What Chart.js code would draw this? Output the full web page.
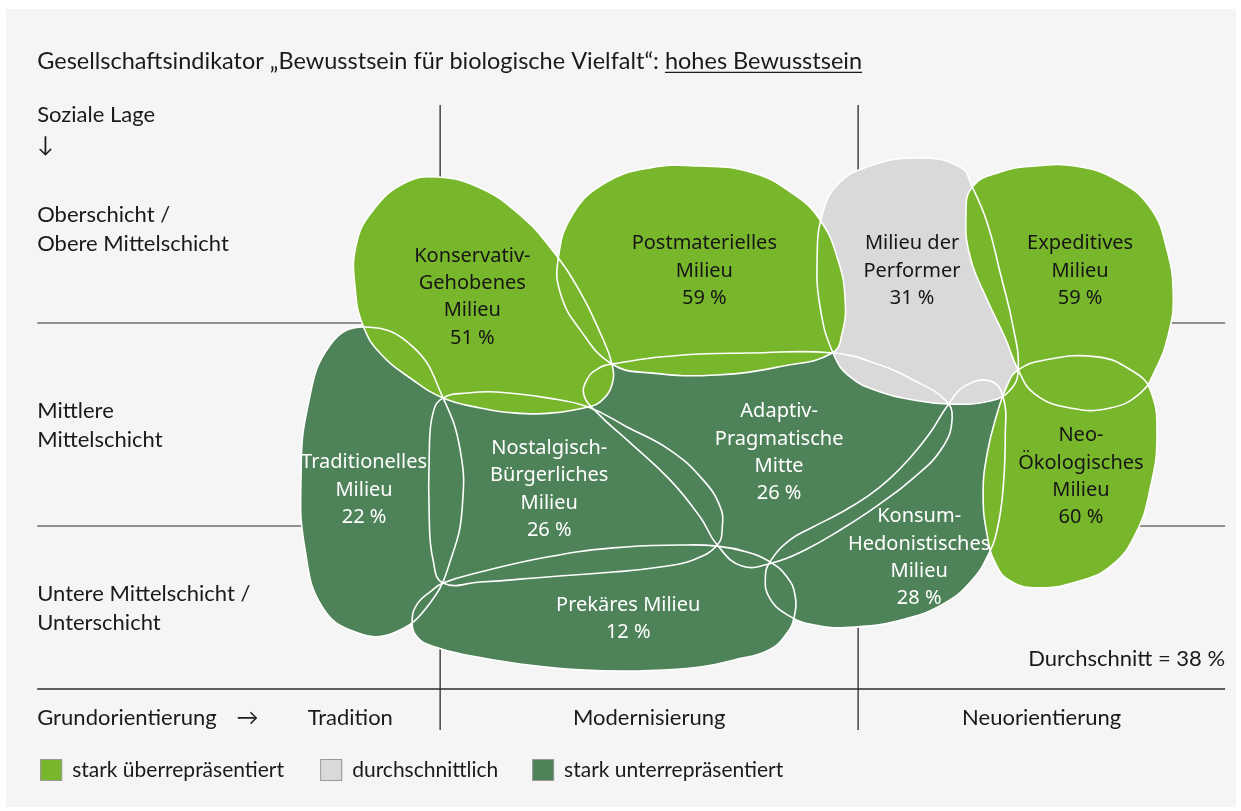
<!DOCTYPE html>
<html lang="de">
<head>
<meta charset="utf-8">
<title>Bewusstsein für biologische Vielfalt – Sinus-Milieus</title>
<script src="https://cdn.jsdelivr.net/npm/chart.js@4.4.1/dist/chart.umd.min.js"></script>
<style>
  html, body { margin: 0; padding: 0; background: #fff; }
  #wrap { position: relative; width: 1241px; height: 811px; }
</style>
</head>
<body>
<div id="wrap"><canvas id="milieuChart"></canvas></div>
<script>
// --- Daten ---------------------------------------------------------------
// Milieus (Zeilenumbrüche wie in der Vorlage)
const milieuNames = [
  ['Konservativ-', 'Gehobenes', 'Milieu'],
  ['Postmaterielles', 'Milieu'],
  ['Milieu der', 'Performer'],
  ['Expeditives', 'Milieu'],
  ['Neo-', 'Ökologisches', 'Milieu'],
  ['Adaptiv-', 'Pragmatische', 'Mitte'],
  ['Nostalgisch-', 'Bürgerliches', 'Milieu'],
  ['Traditionelles', 'Milieu'],
  ['Prekäres Milieu'],
  ['Konsum-', 'Hedonistisches', 'Milieu']
];
// Anteil "hohes Bewusstsein" in %
const milieuShares = [51, 59, 31, 59, 60, 26, 26, 22, 12, 28];
// ueber = stark überrepräsentiert, mittel = durchschnittlich, unter = stark unterrepräsentiert
const milieuGroups = ['ueber', 'ueber', 'mittel', 'ueber', 'ueber', 'unter', 'unter', 'unter', 'unter', 'unter'];
const averageShare = 38;

const rowLabels = [['Oberschicht /', 'Obere Mittelschicht'], ['Mittlere', 'Mittelschicht'], ['Untere Mittelschicht /', 'Unterschicht']];
const columnLabels = ['Tradition', 'Modernisierung', 'Neuorientierung'];
const legendLabels = { ueber: 'stark überrepräsentiert', mittel: 'durchschnittlich', unter: 'stark unterrepräsentiert' };

// --- Lage im Raster ------------------------------------------------------
// Achseneinheiten: Spaltengrenzen bei x = 10 / 20, Zeilengrenzen bei y = 10 / 20
const milieuOutlines = [
  [[9.93,2.81],[10.96,3.35],[11.91,4.68],[12.68,6.40],[13.35,8.47],[13.83,10.49],[14.11,12.02],[14.11,13.05],[13.83,13.89],[13.54,14.14],[12.70,14.43],[11.75,14.43],[10.96,14.19],[10.07,13.69],[9.35,12.81],[8.56,11.48],[8.16,10.15],[7.97,8.37],[7.99,6.16],[8.40,4.43],[9.16,3.10]],
  [[12.82,6.90],[13.16,4.68],[13.95,3.10],[15.02,2.36],[16.22,2.27],[17.42,2.56],[18.42,3.60],[19.09,4.93],[19.52,6.90],[19.69,8.87],[19.62,10.49],[19.38,11.48],[18.21,12.12],[16.63,12.56],[15.02,12.46],[14.11,12.02],[13.35,10.34],[12.89,8.62]],
  [[20.21,2.32],[21.41,1.87],[22.44,2.32],[22.73,3.30],[23.09,5.07],[23.40,7.54],[23.71,10.20],[23.83,12.32],[23.64,13.30],[23.16,13.84],[22.15,13.99],[21.32,13.79],[20.53,13.40],[19.81,12.66],[19.40,11.48],[19.09,9.21],[19.02,6.75],[19.14,4.68],[19.50,3.20]],
  [[22.73,3.30],[23.40,2.56],[24.23,2.27],[25.19,2.27],[26.20,2.96],[26.99,4.33],[27.39,6.40],[27.54,8.72],[27.42,10.59],[27.11,12.32],[26.75,13.45],[26.03,14.19],[25.07,14.19],[24.23,13.50],[23.83,12.32],[23.52,10.74],[23.09,8.87],[22.68,6.75],[22.58,4.68]],
  [[23.80,12.36],[24.47,11.82],[25.72,11.67],[26.53,12.32],[26.99,13.30],[27.15,15.57],[26.99,18.13],[26.65,20.34],[26.08,21.92],[25.29,22.71],[24.31,23.05],[23.64,22.71],[23.28,21.82],[23.09,20.49],[22.99,18.47],[23.09,16.40],[23.35,14.29],[23.54,13.20]],
  [[14.11,12.02],[15.81,11.58],[17.42,11.48],[19.40,11.48],[20.53,12.07],[21.32,12.81],[22.08,13.79],[22.25,14.68],[22.01,16.16],[21.32,17.64],[20.48,18.97],[19.57,20.20],[18.73,21.18],[17.94,21.82],[17.22,21.97],[16.63,20.94],[16.22,19.56],[15.50,17.73],[14.47,15.76],[13.76,14.43],[13.44,13.55],[13.52,12.76],[13.76,12.27]],
  [[10.07,13.69],[10.65,13.45],[11.36,13.40],[12.56,13.69],[13.54,14.14],[14.47,15.12],[15.50,16.26],[16.29,17.73],[16.70,19.06],[16.75,20.05],[16.63,20.94],[16.05,21.67],[15.26,22.02],[14.14,22.27],[12.56,22.51],[10.96,22.76],[10.07,22.81],[9.83,21.67],[9.74,19.70],[9.74,16.40],[9.83,14.43]],
  [[8.21,10.20],[9.35,11.18],[10.07,13.69],[10.48,16.26],[10.53,19.06],[10.29,21.43],[9.76,23.79],[8.88,25.27],[7.97,25.22],[7.18,23.99],[6.77,21.18],[6.67,17.73],[6.84,14.04],[7.37,11.08]],
  [[10.07,22.81],[10.96,22.27],[12.56,21.53],[14.14,21.08],[15.74,20.94],[16.63,20.99],[17.34,21.28],[17.89,21.77],[18.30,22.51],[18.49,23.40],[18.47,24.48],[18.30,25.27],[17.87,26.11],[17.03,26.60],[16.22,26.95],[14.78,27.14],[13.35,27.09],[11.91,26.80],[10.72,26.40],[9.88,25.96],[9.45,25.47],[9.33,24.63],[9.47,23.79],[9.76,23.25]],
  [[17.89,21.77],[18.37,20.69],[18.92,20.05],[19.57,19.36],[20.24,18.52],[20.77,17.64],[21.24,16.65],[21.72,15.42],[22.15,14.04],[22.56,13.10],[23.16,12.86],[23.47,13.65],[23.52,15.57],[23.47,18.13],[23.33,20.15],[23.11,21.43],[22.73,22.66],[22.08,23.79],[21.12,24.58],[19.93,24.98],[18.95,24.88],[18.28,24.34],[17.87,23.50],[17.78,22.56]]
];
// Mittelpunkt der Beschriftung je Milieu
const milieuLabelPos = [
  [10.77, 8.72], [16.32, 7.44], [21.29, 7.44], [25.31, 7.44], [25.33, 17.56],
  [18.11, 16.38], [12.61, 18.20], [8.18, 18.23], [14.50, 24.56], [21.46, 21.55]
];

const GREEN = '#78b72b';
const GREY = '#d9d9d9';
const DARK = '#4e8258';
const groupColor = { ueber: GREEN, mittel: GREY, unter: DARK };
const groupInk = { ueber: '#161616', mittel: '#161616', unter: '#ffffff' };
const groupRank = { unter: 0, mittel: 1, ueber: 2 };

const SANS = '22px Lato, "Noto Sans", sans-serif';
const TITLE_FONT = '23.5px Lato, "Noto Sans", sans-serif';
const LEGEND_FONT = '21px Lato, "Noto Sans", sans-serif';
const MILIEU_FONT = '20px "Noto Sans", sans-serif';
const INK = '#1a1a1a';

// geschlossene Kontur: letzter Punkt vorne, erste zwei hinten -> glatter Übergang
function closedLoop(pts) {
  const n = pts.length;
  return [pts[n - 1], ...pts, pts[0], pts[1]].map(([x, y]) => ({ x, y }));
}

const drawOrder = milieuNames
  .map((_, i) => i)
  .sort((a, b) => groupRank[milieuGroups[a]] - groupRank[milieuGroups[b]]);

const datasets = drawOrder.map((i) => ({
  label: milieuNames[i].join(' ').replace('- ', '-'),
  data: closedLoop(milieuOutlines[i]),
  showLine: true,
  borderWidth: 0,
  pointRadius: 0,
  pointHoverRadius: 0,
  tension: 0.45,
  fill: false,
  backgroundColor: groupColor[milieuGroups[i]],
  milieuIndex: i
}));

function blobPath(chart, idx) {
  const line = chart.getDatasetMeta(idx).dataset;
  if (!line) return false;
  line.updateControlPoints(chart.chartArea, 'x');
  const count = chart.data.datasets[idx].data.length - 2;
  chart.ctx.beginPath();
  line.path(chart.ctx, 1, count);
  chart.ctx.closePath();
  return true;
}

function drawText(ctx, str, x, y, align, color, font) {
  ctx.font = font || SANS;
  ctx.fillStyle = color || INK;
  ctx.textAlign = align || 'left';
  ctx.textBaseline = 'middle';
  ctx.fillText(str, x, y);
}

const milieuPlugin = {
  id: 'milieuMap',
  beforeDraw(chart) {
    const { ctx } = chart;
    const X = (v) => chart.scales.x.getPixelForValue(v);
    const Y = (v) => chart.scales.y.getPixelForValue(v);
    ctx.save();
    ctx.fillStyle = '#ffffff';
    ctx.fillRect(0, 0, chart.width, chart.height);
    ctx.fillStyle = '#f5f5f5';
    ctx.fillRect(6, 9, chart.width - 11, chart.height - 13);

    // Raster
    ctx.lineWidth = 1.3;
    ctx.strokeStyle = '#6e6e6e';
    [10, 20].forEach((v) => {
      ctx.beginPath();
      ctx.moveTo(X(0.36), Y(v));
      ctx.lineTo(X(28.78), Y(v));
      ctx.stroke();
    });
    ctx.strokeStyle = '#2a2a2a';
    [10, 20].forEach((u) => {
      ctx.beginPath();
      ctx.moveTo(X(u), Y(-0.74));
      ctx.lineTo(X(u), Y(30.05));
      ctx.stroke();
    });
    ctx.beginPath();
    ctx.moveTo(X(0.36), Y(28.03));
    ctx.lineTo(X(28.78), Y(28.03));
    ctx.stroke();

    // Titel
    const titleMain = 'Gesellschaftsindikator „Bewusstsein für biologische Vielfalt“: ';
    const titleEmph = 'hohes Bewusstsein';
    const tx = X(0.36);
    const ty = Y(-2.86);
    drawText(ctx, titleMain, tx, ty, 'left', INK, TITLE_FONT);
    const w1 = ctx.measureText(titleMain).width;
    drawText(ctx, titleEmph, tx + w1, ty, 'left', INK, TITLE_FONT);
    const w2 = ctx.measureText(titleEmph).width;
    ctx.lineWidth = 1.4;
    ctx.strokeStyle = INK;
    ctx.beginPath();
    ctx.moveTo(tx + w1, ty + 10.5);
    ctx.lineTo(tx + w1 + w2, ty + 10.5);
    ctx.stroke();

    // Achsenbeschriftung: Soziale Lage
    drawText(ctx, 'Soziale Lage', tx, Y(-0.25));
    drawText(ctx, '↓', tx, Y(1.23));
    const rowCenters = [5.39, 15.05, 24.06];
    rowLabels.forEach((lines, r) => {
      const cy = Y(rowCenters[r]);
      lines.forEach((s, k) => drawText(ctx, s, tx, cy + (k - (lines.length - 1) / 2) * 29));
    });

    // Grundorientierung
    const by = Y(29.46);
    drawText(ctx, 'Grundorientierung', tx, by);
    const gw = ctx.measureText('Grundorientierung').width;
    drawText(ctx, '→', tx + gw + 20, by);
    const colCenters = [7.85, 15, 24.39];
    columnLabels.forEach((s, c) => drawText(ctx, s, X(colCenters[c]), by, 'center'));

    // Durchschnitt
    drawText(ctx, `Durchschnitt = ${averageShare} %`, X(28.78), Y(26.55), 'right');

    // Legende
    const ly = Y(32.02);
    const legendX = [0.43, 7.13, 12.2];
    ['ueber', 'mittel', 'unter'].forEach((g, k) => {
      const lx = X(legendX[k]);
      ctx.fillStyle = groupColor[g];
      ctx.fillRect(lx, ly - 11, 22, 22);
      ctx.lineWidth = 1;
      ctx.strokeStyle = '#9a9a9a';
      ctx.strokeRect(lx + 0.5, ly - 10.5, 21, 21);
      drawText(ctx, legendLabels[g], lx + 32, ly, 'left', INK, LEGEND_FONT);
    });
    ctx.restore();
  },
  beforeDatasetsDraw(chart) {
    const { ctx } = chart;
    ctx.save();
    chart.data.datasets.forEach((ds, idx) => {
      if (!blobPath(chart, idx)) return;
      ctx.fillStyle = ds.backgroundColor;
      ctx.fill();
    });
    ctx.restore();
  },
  afterDatasetsDraw(chart) {
    const { ctx } = chart;
    const X = (v) => chart.scales.x.getPixelForValue(v);
    const Y = (v) => chart.scales.y.getPixelForValue(v);
    ctx.save();
    ctx.strokeStyle = '#ffffff';
    ctx.lineWidth = 1.6;
    chart.data.datasets.forEach((ds, idx) => {
      if (!blobPath(chart, idx)) return;
      ctx.stroke();
    });

    // Beschriftung der Milieus
    milieuNames.forEach((name, i) => {
      const lines = [...name, `${milieuShares[i]} %`];
      const [u, v] = milieuLabelPos[i];
      const cx = X(u);
      const cy = Y(v);
      const color = groupInk[milieuGroups[i]];
      lines.forEach((s, k) => {
        drawText(ctx, s, cx, cy + (k - (lines.length - 1) / 2) * 27.3, 'center', color, MILIEU_FONT);
      });
    });
    ctx.restore();
  }
};

new Chart(document.getElementById('milieuChart'), {
  type: 'scatter',
  data: { datasets },
  options: {
    responsive: true,
    maintainAspectRatio: false,
    animation: false,
    events: [],
    layout: { padding: 0, autoPadding: false },
    scales: {
      x: { type: 'linear', display: false, min: -0.53, max: 29.16 },
      y: { type: 'linear', display: false, reverse: true, min: -5.91, max: 34.04 }
    },
    plugins: {
      legend: { display: false },
      tooltip: { enabled: false },
      title: { display: false }
    }
  },
  plugins: [milieuPlugin]
});
</script>
</body>
</html>
